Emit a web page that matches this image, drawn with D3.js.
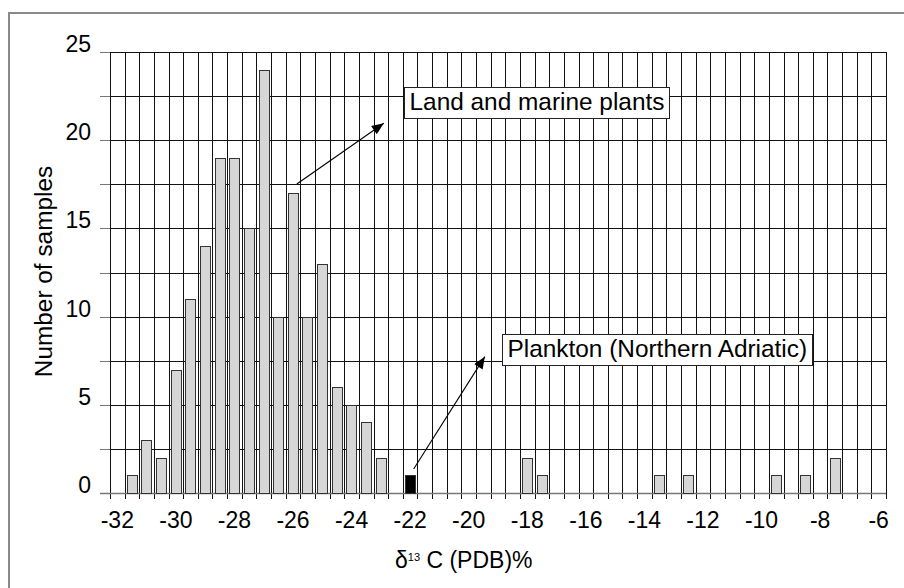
<!DOCTYPE html>
<html>
<head>
<meta charset="utf-8">
<script src="https://cdn.jsdelivr.net/npm/d3@7"></script>
<style>
  html, body { margin: 0; padding: 0; background: #fff; }
  svg { display: block; font-family: "Liberation Sans", Arial, sans-serif; }
</style>
</head>
<body>
<svg id="chart" width="904" height="588"></svg>
<script>
// δ13C histogram: sample counts per 0.5‰ bin
const landBins   = [-31.5, -31, -30.5, -30, -29.5, -29, -28.5, -28, -27.5, -27, -26.5, -26, -25.5,
                    -25, -24.5, -24, -23.5, -23, -18, -17.5, -13.5, -12.5, -9.5, -8.5, -7.5];
const landCounts = [1, 3, 2, 7, 11, 14, 19, 19, 15, 24, 10, 17, 10,
                    13, 6, 5, 4, 2, 2, 1, 1, 1, 1, 1, 2];
const planktonBins   = [-22];
const planktonCounts = [1];

const xTickLabels = [-32, -30, -28, -26, -24, -22, -20, -18, -16, -14, -12, -10, -8, -6];
const yTickLabels = [0, 5, 10, 15, 20, 25];
const yGridValues = [0, 2.5, 5, 7.5, 10, 12.5, 15, 17.5, 20, 22.5, 25];
const binEdges = [-32.25, -31.75, -31.25, -30.75, -30.25, -29.75, -29.25, -28.75, -28.25, -27.75,
                  -27.25, -26.75, -26.25, -25.75, -25.25, -24.75, -24.25, -23.75, -23.25, -22.75,
                  -22.25, -21.75, -21.25, -20.75, -20.25, -19.75, -19.25, -18.75, -18.25, -17.75,
                  -17.25, -16.75, -16.25, -15.75, -15.25, -14.75, -14.25, -13.75, -13.25, -12.75,
                  -12.25, -11.75, -11.25, -10.75, -10.25, -9.75, -9.25, -8.75, -8.25, -7.75,
                  -7.25, -6.75, -6.25, -5.75];

// annotation callouts, positioned in data units
const annotations = [
  { text: "Land and marine plants", box: [-22.21, 23.0], from: [-25.87, 17.52], to: [-22.90, 20.96] },
  { text: "Plankton (Northern Adriatic)", box: [-18.86, 9.01], from: [-21.88, 1.36], to: [-19.45, 7.73] }
];

const svg = d3.select("#chart");
const plot = { left: 110, right: 886, top: 52, bottom: 493 };

const x = d3.scaleLinear().domain([binEdges[0], binEdges[binEdges.length - 1]]).range([plot.left, plot.right]);
const xr = x.copy().interpolate(d3.interpolateRound);   // pixel-snapped, for grid lines
const y = d3.scaleLinear().domain([0, 25]).range([plot.bottom, plot.top]);
const yr = y.copy().interpolate(d3.interpolateRound);
const binWidth = 0.5;
const barWidth = binWidth * 0.71;

// outer frame (only top and left edges fall inside the page)
svg.append("path")
  .attr("d", "M9,600 L9,13 L920,13")
  .attr("fill", "none").attr("stroke", "#8a8a8a").attr("stroke-width", 2);

// horizontal gridlines
svg.append("g")
  .attr("transform", `translate(${plot.right},0)`)
  .call(d3.axisLeft(yr).tickValues(yGridValues).tickSize(plot.right - plot.left).tickSizeOuter(0).tickFormat(""))
  .call(g => g.select(".domain").remove())
  .call(g => g.selectAll(".tick line").attr("stroke", "#111").attr("stroke-width", 1));

// outward ticks on the value axis
svg.append("g")
  .attr("transform", `translate(${plot.left},0)`)
  .call(d3.axisLeft(yr).tickValues(yGridValues).tickSize(10).tickFormat(""))
  .call(g => g.select(".domain").remove())
  .call(g => g.selectAll(".tick line").attr("stroke", "#777"));

// vertical gridlines on bin edges, with short ticks below the baseline
svg.append("g")
  .attr("transform", `translate(0,${plot.top})`)
  .call(d3.axisBottom(xr).tickValues(binEdges).tickSize(plot.bottom - plot.top + 6).tickFormat(""))
  .call(g => g.select(".domain").remove())
  .call(g => g.selectAll(".tick line").attr("stroke", "#111").attr("stroke-width", 1));

// baseline
svg.append("line")
  .attr("x1", plot.left - 10).attr("x2", plot.right)
  .attr("y1", yr(0) + 0.5).attr("y2", yr(0) + 0.5)
  .attr("stroke", "#777").attr("stroke-width", 1.3);

// value-axis labels (digits sit on their gridline)
svg.append("g").selectAll("text")
  .data(yTickLabels).join("text")
  .attr("x", 91).attr("y", d => y(d))
  .attr("text-anchor", "end")
  .attr("font-size", 23).attr("fill", "#000")
  .text(d => String(d));

// δ13C labels
svg.append("g").selectAll("text")
  .data(xTickLabels).join("text")
  .attr("x", d => x(d)).attr("y", 528)
  .attr("text-anchor", "middle")
  .attr("font-size", 23).attr("fill", "#000")
  .text(d => String(d));

// bars
const landData = landBins.map((b, i) => ({ bin: b, n: landCounts[i] }));
const planktonData = planktonBins.map((b, i) => ({ bin: b, n: planktonCounts[i] }));

function drawBars(data, fill) {
  svg.append("g").selectAll("rect")
    .data(data).join("rect")
    .attr("x", d => Math.round(x(d.bin - barWidth / 2)) + 0.5)
    .attr("width", d => Math.round(x(d.bin + barWidth / 2) - x(d.bin - barWidth / 2)))
    .attr("y", d => Math.round(y(d.n)) + 0.5)
    .attr("height", d => Math.round(y(0)) - Math.round(y(d.n)))
    .attr("fill", fill).attr("stroke", "#333").attr("stroke-width", 1);
}
drawBars(landData, "#d6d6d6");
drawBars(planktonData, "#000");

// axis titles
svg.append("text")
  .attr("transform", `translate(52,${(plot.top + plot.bottom) / 2 - 1}) rotate(-90)`)
  .attr("text-anchor", "middle")
  .attr("font-size", 24.4).attr("fill", "#000")
  .text("Number of samples");

const xt = svg.append("text")
  .attr("x", 395).attr("y", 568)
  .attr("font-size", 23).attr("fill", "#000");
xt.append("tspan").text("δ");
xt.append("tspan").attr("font-size", 11).attr("dy", -7).text("13");
xt.append("tspan").attr("dy", 7).text(" C (PDB)%");

// arrowhead
svg.append("defs").append("marker")
  .attr("id", "arrow")
  .attr("viewBox", "0 0 12 10")
  .attr("refX", 12).attr("refY", 5)
  .attr("markerWidth", 13).attr("markerHeight", 10)
  .attr("markerUnits", "userSpaceOnUse")
  .attr("orient", "auto")
  .append("path").attr("d", "M0,0 L12,5 L0,10 Z").attr("fill", "#000");

// callouts
annotations.forEach(a => {
  svg.append("line")
    .attr("x1", x(a.from[0])).attr("y1", y(a.from[1]))
    .attr("x2", x(a.to[0])).attr("y2", y(a.to[1]))
    .attr("stroke", "#000").attr("stroke-width", 1.1)
    .attr("marker-end", "url(#arrow)");

  const bx = Math.round(x(a.box[0])) + 0.5, by = Math.round(y(a.box[1])) + 0.5;
  const g = svg.append("g");
  const rect = g.append("rect");
  const t = g.append("text")
    .attr("x", bx + 5).attr("y", by + 22.5)
    .attr("font-size", 24.4).attr("fill", "#000")
    .text(a.text);
  const w = t.node().getComputedTextLength();
  rect.attr("x", bx).attr("y", by)
    .attr("width", Math.round(w + 10)).attr("height", 31)
    .attr("fill", "#fff").attr("stroke", "#222").attr("stroke-width", 1);
});
</script>
</body>
</html>
